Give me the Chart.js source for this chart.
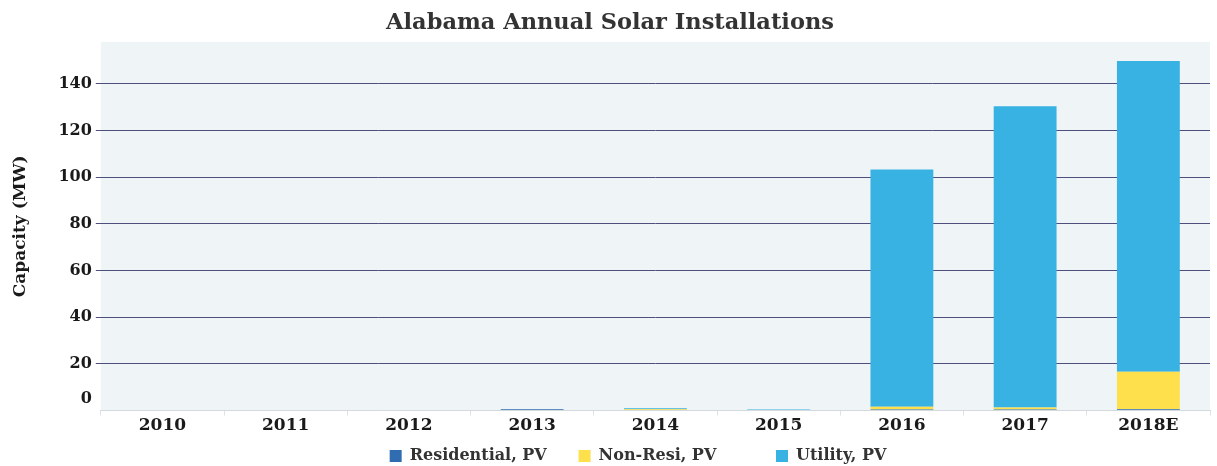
<!DOCTYPE html>
<html>
<head>
<meta charset="utf-8">
<script src="https://cdn.jsdelivr.net/npm/chart.js@4"></script>
<style>
  html, body { margin: 0; padding: 0; background: #ffffff; }
  #wrap { width: 1217px; height: 466px; }
</style>
</head>
<body>
<div id="wrap"><canvas id="solarChart" width="1217" height="466"></canvas></div>
<script>
// Dados (MW)
const anos = ['2010', '2011', '2012', '2013', '2014', '2015', '2016', '2017', '2018E'];
const residencial = [0, 0, 0, 0.6, 0.3, 0, 0.5, 0.5, 0.6];
const naoResidencial = [0, 0, 0, 0, 0.3, 0, 1.2, 0.8, 16.1];
const utilidade = [0, 0, 0, 0, 0.4, 0.5, 101.7, 129.2, 133.2];
const ticksY = [0, 20, 40, 60, 80, 100, 120, 140];

const fonteSerif = "'DejaVu Serif', 'Liberation Serif', serif";
const fonteTick = { family: fonteSerif, size: 16, weight: 'bold' };

// Espaços extras após cada item da legenda (distribuição irregular do original)
const espacosLegenda = [5, 10, 0];

// Fundo cinza-azulado da área de plotagem
const fundoArea = {
    id: 'fundoArea',
    beforeDraw(chart) {
        const { ctx, chartArea: a } = chart;
        ctx.save();
        ctx.fillStyle = '#eff4f7';
        ctx.fillRect(a.left, a.top, a.right - a.left, a.bottom - a.top);
        ctx.restore();
    }
};

// Legenda do original fica um pouco à direita e mais abaixo
const deslocaLegenda = {
    id: 'deslocaLegenda',
    afterLayout(chart) {
        const lg = chart.legend;
        lg.left += 28; lg.right += 28;
        lg.top += 8; lg.bottom += 8;
    }
};

// O rótulo "0" fica um pouco acima do eixo, como no original
const rotuloZero = {
    id: 'rotuloZero',
    afterDraw(chart) {
        const y = chart.scales.y;
        const { ctx } = chart;
        ctx.save();
        ctx.font = `bold ${fonteTick.size}px ${fonteSerif}`;
        ctx.fillStyle = '#1a1a1a';
        ctx.textAlign = 'right';
        ctx.textBaseline = 'middle';
        ctx.fillText('0', y.right - 5 - 4, y.getPixelForValue(0) - 12);
        ctx.restore();
    }
};

new Chart(document.getElementById('solarChart').getContext('2d'), {
    type: 'bar',
    data: {
        labels: anos,
        datasets: [
            { label: 'Residential, PV', data: residencial, backgroundColor: '#2f6db0' },
            { label: 'Non-Resi, PV', data: naoResidencial, backgroundColor: '#fedf4c' },
            { label: 'Utility, PV', data: utilidade, backgroundColor: '#38b2e3' }
        ]
    },
    options: {
        responsive: false,
        animation: false,
        layout: { padding: { left: 10, right: 7, top: 0, bottom: 0 } },
        datasets: { bar: { barPercentage: 0.51, categoryPercentage: 1.0 } },
        scales: {
            x: {
                stacked: true,
                grid: {
                    offset: true,
                    drawOnChartArea: false,
                    color: '#dde3e8',
                    tickLength: 5
                },
                border: { color: '#d4d9de' },
                ticks: {
                    color: '#1a1a1a',
                    padding: 0,
                    font: { family: fonteSerif, size: 17, weight: 'bold' }
                }
            },
            y: {
                stacked: true,
                min: 0,
                max: 158,
                afterBuildTicks: (eixo) => {
                    eixo.ticks = ticksY.map(v => ({ value: v }));
                },
                grid: {
                    color: (c) => c.tick && c.tick.value === 0 ? 'rgba(0,0,0,0)' : '#4e4f7c',
                    lineWidth: 1,
                    tickLength: 5
                },
                border: { display: false },
                ticks: {
                    color: '#1a1a1a',
                    padding: 4,
                    font: fonteTick,
                    callback: (v) => v === 0 ? '' : v
                },
                title: {
                    display: true,
                    text: 'Capacity (MW)',
                    color: '#1a1a1a',
                    padding: { top: 0, bottom: 24 },
                    font: { family: fonteSerif, size: 17, weight: 'bold' }
                }
            }
        },
        plugins: {
            title: {
                display: true,
                text: 'Alabama Annual Solar Installations',
                color: '#333333',
                padding: { top: 10, bottom: 5 },
                font: { family: fonteSerif, size: 22.5, weight: 'bold' }
            },
            legend: {
                position: 'bottom',
                labels: {
                    boxWidth: 12,
                    boxHeight: 12,
                    padding: 4,
                    color: '#333333',
                    font: { family: fonteSerif, size: 16, weight: 'bold' },
                    generateLabels: (chart) => {
                        const itens = Chart.defaults.plugins.legend.labels.generateLabels(chart);
                        itens.forEach((it, i) => {
                            it.text = it.text + '\u00a0'.repeat(espacosLegenda[i]);
                        });
                        return itens;
                    }
                }
            },
            tooltip: { enabled: false }
        }
    },
    plugins: [fundoArea, deslocaLegenda, rotuloZero]
});
</script>
</body>
</html>
